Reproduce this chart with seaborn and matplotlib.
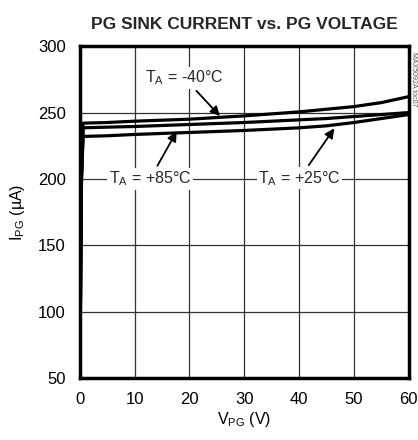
import seaborn as sns
import matplotlib.pyplot as plt
import pandas as pd

# curve data (V_PG in V, I_PG in uA)
v_m40 = [0, 0.3, 0.6, 5, 10, 20, 30, 40, 45, 50, 55, 60]
i_m40 = [50, 200, 242, 242.5, 243.5, 245, 247.5, 250.5, 252.5, 254.5, 257.5, 262]

v_p85 = [0, 0.3, 0.6, 5, 10, 20, 30, 40, 45, 50, 55, 60]
i_p85 = [50, 200, 238.5, 239, 239.5, 241, 242.5, 244.5, 245.5, 247, 248.5, 250]

v_p25 = [0, 0.3, 0.6, 5, 10, 20, 30, 40, 45, 50, 55, 60]
i_p25 = [50, 200, 232, 232.5, 233.5, 235, 236.5, 238.5, 240, 242.5, 245.5, 248.5]

temps = ["-40", "+85", "+25"]

sns.set_theme(style="white")
plt.rcParams['font.family'] = ['Liberation Sans', 'DejaVu Sans']
plt.rcParams['mathtext.fontset'] = 'custom'
plt.rcParams['mathtext.rm'] = 'Liberation Sans'

df = pd.concat([
    pd.DataFrame({"v": v_m40, "i": i_m40, "t": temps[0]}),
    pd.DataFrame({"v": v_p85, "i": i_p85, "t": temps[1]}),
    pd.DataFrame({"v": v_p25, "i": i_p25, "t": temps[2]}),
])

fig = plt.figure(figsize=(4.18, 4.40), dpi=100)
ax = fig.add_axes([0.191, 0.141, 0.787, 0.754])

sns.lineplot(data=df, x="v", y="i", hue="t", units="t", estimator=None,
             palette=["black"] * 3, linewidth=2.3, legend=False, ax=ax, sort=False)

ax.set_xlim(0, 60)
ax.set_ylim(50, 300)
ax.set_xticks(range(0, 61, 10))
ax.set_yticks(range(50, 301, 50))
ax.grid(True, color="#333333", linewidth=0.9)
ax.tick_params(length=0, labelsize=12, colors="black", pad=10)
for s in ax.spines.values():
    s.set_visible(True)
    s.set_color("black")
    s.set_linewidth(2.5)

ax.set_xlabel("V$_\\mathregular{PG}$ (V)", fontsize=11.5, color="black", labelpad=2)
ax.set_ylabel("I$_\\mathregular{PG}$ (µA)", fontsize=11.5, color="black", labelpad=8)
fig.text(0.585, 0.935, "PG SINK CURRENT vs. PG VOLTAGE", ha="center",
         fontsize=12.5, fontweight="bold")
fig.text(0.99, 0.82, "MAX5092A toc07", rotation=270, fontsize=5,
         color="#555555", ha="center", va="center")

box = dict(facecolor="white", edgecolor="none", pad=1)
arrow = dict(arrowstyle="-|>", color="black", lw=1.3, mutation_scale=14)
ax.annotate("T$_\\mathregular{A}$ = -40°C", xy=(25.9, 245.8), xytext=(19.1, 276),
            ha="center", va="center", fontsize=11.5, bbox=box, arrowprops=arrow)
ax.annotate("T$_\\mathregular{A}$ = +85°C", xy=(17.9, 237.5), xytext=(12.8, 200),
            ha="center", va="center", fontsize=11.5, bbox=box, arrowprops=arrow)
ax.annotate("T$_\\mathregular{A}$ = +25°C", xy=(46.7, 239.8), xytext=(40.1, 200.5),
            ha="center", va="center", fontsize=11.5, bbox=box, arrowprops=arrow)

plt.savefig("out.png", dpi=100)
